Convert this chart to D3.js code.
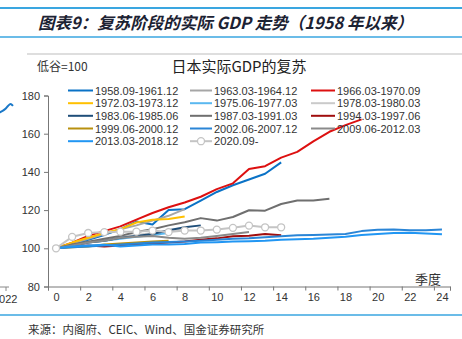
<!DOCTYPE html>
<html>
<head>
<meta charset="utf-8">
<script src="https://cdn.jsdelivr.net/npm/d3@7"></script>
<style>
  html, body { margin: 0; padding: 0; background: #fff; }
  svg { display: block; }
  text { font-family: "Liberation Sans", Arial, sans-serif; }
  .cjk { font-family: "Noto Sans CJK SC", sans-serif; }
</style>
</head>
<body>
<svg id="chart" width="462" height="339"></svg>
<script>
// legend / series labels, row-major order as in the legend
const periods = [
  "1958.09-1961.12", "1963.03-1964.12", "1966.03-1970.09",
  "1972.03-1973.12", "1975.06-1977.03", "1978.03-1980.03",
  "1983.06-1985.06", "1987.03-1991.03", "1994.03-1997.06",
  "1999.06-2000.12", "2002.06-2007.12", "2009.06-2012.03",
  "2013.03-2018.12", "2020.09-"
];
const colors = [
  "#0a72c6", "#a6a6a6", "#dd1010",
  "#ffc000", "#5ab8f0", "#cacaca",
  "#1f4e79", "#6f6f6f", "#a00d0d",
  "#b8900f", "#2a85d6", "#8a8a8a",
  "#2196f3", "#c4c4c4"
];

// real GDP, trough quarter = 100, one value per quarter from 0
const s1958 = [100, 102, 104.5, 107, 110, 114, 112.5, 120, 120.5, 125, 129.5, 133, 136, 139, 145];
const s1963 = [100, 102.5, 105, 107.5, 110, 112, 114.5, 117, 120.5];
const s1966 = [100, 103, 106.5, 109, 111.5, 115, 118.5, 121.5, 124, 127, 131, 134, 141.5, 143, 147.5, 150.5, 156, 161, 164.5, 167.5];
const s1972 = [100, 103, 105.5, 108, 110, 113.5, 115, 115.3, 116.6];
const s1975 = [100, 101.5, 103, 104, 105, 106, 107, 108];
const s1978 = [100, 101.5, 103, 104.5, 106, 107, 108, 109, 110];
const s1983 = [100, 101.5, 103, 104, 105.5, 106.5, 107.5, 109.5, 111, 112];
const s1987 = [100, 102, 103.5, 105, 106.5, 108.5, 110, 112, 113.6, 115.8, 114.5, 116.4, 119.9, 119.7, 123.2, 125, 125, 125.9];
const s1994 = [100, 101, 101.5, 101, 101.5, 102, 102.5, 103, 103.5, 104.5, 105.2, 106.3, 106.6, 107.5, 106.8];
const s1999 = [100, 100.5, 101, 102, 102.5, 103, 103.5, 104];
const s2002 = [100, 100.5, 101, 101.5, 102, 102.5, 103, 103.3, 103.6, 104, 104.5, 105, 105.3, 105.8, 106.3, 106.8, 107, 107.2, 107.5, 109, 109.7, 109.8, 109.5, 109.5, 109.8];
const s2009 = [100, 101.5, 103, 104, 105.5, 106, 106.5, 105.5, 105, 105.5, 106.5, 107.5, 108.5];
const s2013 = [100, 101, 101.5, 101.8, 101, 101.5, 102, 102, 102.3, 103, 103.2, 103.5, 103.7, 104, 104.5, 104.8, 105, 105.5, 106, 107, 107.5, 108, 108.2, 107.8, 107.3];
const s2020 = [100, 106, 108, 108.5, 108.7, 108.7, 109.3, 108.5, 109.3, 109.3, 109.8, 110.7, 111.9, 111, 111];

const seriesValues = [s1958, s1963, s1966, s1972, s1975, s1978, s1983, s1987, s1994, s1999, s2002, s2009, s2013, s2020];
const yTicks = [80, 100, 120, 140, 160, 180];
const xLabels = [0, 2, 4, 6, 8, 10, 12, 14, 16, 18, 20, 22, 24];
const xBounds = [-0.5, 1.5, 3.5, 5.5, 7.5, 9.5, 11.5, 13.5, 15.5, 17.5, 19.5, 21.5, 23.5, 24.5];
// tail of the neighbouring chart cut off at the left edge
const neighbourTail = [106, 106.3, 107, 108, 109.5, 110.5, 109.5];

const svg = d3.select("#chart");
const W = 462, H = 339;

svg.append("rect").attr("width", W).attr("height", H).attr("fill", "#fff");

// report frame lines
svg.append("line").attr("x1", 0).attr("x2", W).attr("y1", 8).attr("y2", 8)
  .attr("stroke", "#3aa6e0").attr("stroke-width", 2);
svg.append("line").attr("x1", 0).attr("x2", W).attr("y1", 37).attr("y2", 37)
  .attr("stroke", "#3aa6e0").attr("stroke-width", 1.5);
svg.append("line").attr("x1", 27).attr("x2", W).attr("y1", 54).attr("y2", 54)
  .attr("stroke", "#bdbdbd").attr("stroke-width", 1);
svg.append("line").attr("x1", 0).attr("x2", W).attr("y1", 315).attr("y2", 315)
  .attr("stroke", "#3aa6e0").attr("stroke-width", 1.5);

svg.append("text").attr("class", "cjk")
  .attr("x", 38).attr("y", 29)
  .attr("font-size", 16.5).attr("font-weight", "bold").attr("font-style", "italic")
  .attr("fill", "#1c2233")
  .text("图表9：复苏阶段的实际 GDP 走势（1958 年以来）");

svg.append("text").attr("class", "cjk")
  .attr("x", 28).attr("y", 334)
  .attr("font-size", 11.5).attr("fill", "#333")
  .text("来源：内阁府、CEIC、Wind、国金证券研究所");

// scales
const x = d3.scaleLinear().domain([-0.5, 24.5]).range([48, 450]);
const y = d3.scaleLinear().domain([80, 180]).range([286.5, 95.5]);

// neighbour fragment
const nx = d3.scaleLinear().domain([0, neighbourTail.length - 1]).range([-2, 13]);
const ny = d3.scaleLinear().domain([100, 120]).range([124, 86]);
svg.append("path")
  .attr("d", d3.line().x((d, i) => nx(i)).y(d => ny(d)).curve(d3.curveMonotoneX)(neighbourTail))
  .attr("fill", "none").attr("stroke", "#1a78c8").attr("stroke-width", 2);
svg.append("line").attr("x1", 0).attr("x2", 9).attr("y1", 287).attr("y2", 287).attr("stroke", "#888");
svg.append("line").attr("x1", 6).attr("x2", 6).attr("y1", 287).attr("y2", 291).attr("stroke", "#888");
svg.append("text").attr("x", -7).attr("y", 303).attr("font-size", 11).attr("fill", "#333").text("2022");

// chart titles
svg.append("text").attr("class", "cjk")
  .attr("x", 37).attr("y", 71).attr("font-size", 12).attr("fill", "#333")
  .text("低谷=100");
svg.append("text").attr("class", "cjk")
  .attr("x", 239).attr("y", 72).attr("font-size", 15).attr("fill", "#222")
  .attr("text-anchor", "middle")
  .text("日本实际GDP的复苏");

// axes
const yAxis = svg.append("g").attr("transform", `translate(${x(-0.5)},0)`)
  .call(d3.axisLeft(y).tickValues(yTicks).tickSize(4).tickPadding(4));
yAxis.select(".domain").attr("stroke", "#777");
yAxis.selectAll(".tick line").attr("stroke", "#777");
yAxis.selectAll("text").attr("font-size", 11).attr("fill", "#333")
  .attr("font-family", "Liberation Sans, Arial, sans-serif");

const xAxisTicks = svg.append("g").attr("transform", `translate(0,${y(80)})`)
  .call(d3.axisBottom(x).tickValues(xBounds).tickSize(4).tickFormat(""));
xAxisTicks.select(".domain").attr("stroke", "#777");
xAxisTicks.selectAll(".tick line").attr("stroke", "#777");

const xAxisLabels = svg.append("g").attr("transform", `translate(0,${y(80)})`)
  .call(d3.axisBottom(x).tickValues(xLabels).tickSize(0).tickPadding(7));
xAxisLabels.select(".domain").remove();
xAxisLabels.selectAll("text").attr("font-size", 11).attr("fill", "#333")
  .attr("font-family", "Liberation Sans, Arial, sans-serif");

svg.append("text").attr("class", "cjk")
  .attr("x", 441).attr("y", 284).attr("font-size", 13).attr("fill", "#333")
  .attr("text-anchor", "end")
  .text("季度");

// series lines
const line = d3.line().x((d, i) => x(i)).y(d => y(d));
const plot = svg.append("g");
seriesValues.forEach((vals, k) => {
  plot.append("path")
    .attr("d", line(vals))
    .attr("fill", "none")
    .attr("stroke", colors[k])
    .attr("stroke-width", 2)
    .attr("stroke-linejoin", "round");
});
const lastK = seriesValues.length - 1;
plot.selectAll("circle.mk").data(seriesValues[lastK]).join("circle")
  .attr("class", "mk")
  .attr("cx", (d, i) => x(i)).attr("cy", d => y(d)).attr("r", 3.5)
  .attr("fill", "#fff").attr("stroke", colors[lastK]).attr("stroke-width", 1.3);

// legend
const colX = [68, 190, 311];
const colLen = [25, 22, 24];
const rowY = [90.5, 103.2, 115.8, 128.5, 141.2];
const legend = svg.append("g");
periods.forEach((p, k) => {
  const c = k % 3, r = Math.floor(k / 3);
  const g = legend.append("g").attr("transform", `translate(${colX[c]},${rowY[r]})`);
  g.append("line").attr("x1", 0).attr("x2", colLen[c]).attr("y1", 0).attr("y2", 0)
    .attr("stroke", colors[k]).attr("stroke-width", 2);
  if (k === lastK) {
    g.append("circle").attr("cx", colLen[c] / 2).attr("cy", 0).attr("r", 3.5)
      .attr("fill", "#fff").attr("stroke", colors[k]).attr("stroke-width", 1.3);
  }
  g.append("text").attr("x", colLen[c] + 2).attr("y", 4)
    .attr("font-size", 11.5).attr("fill", "#333")
    .attr("textLength", p.length * 5.55).attr("lengthAdjust", "spacingAndGlyphs")
    .text(p);
});
</script>
</body>
</html>
